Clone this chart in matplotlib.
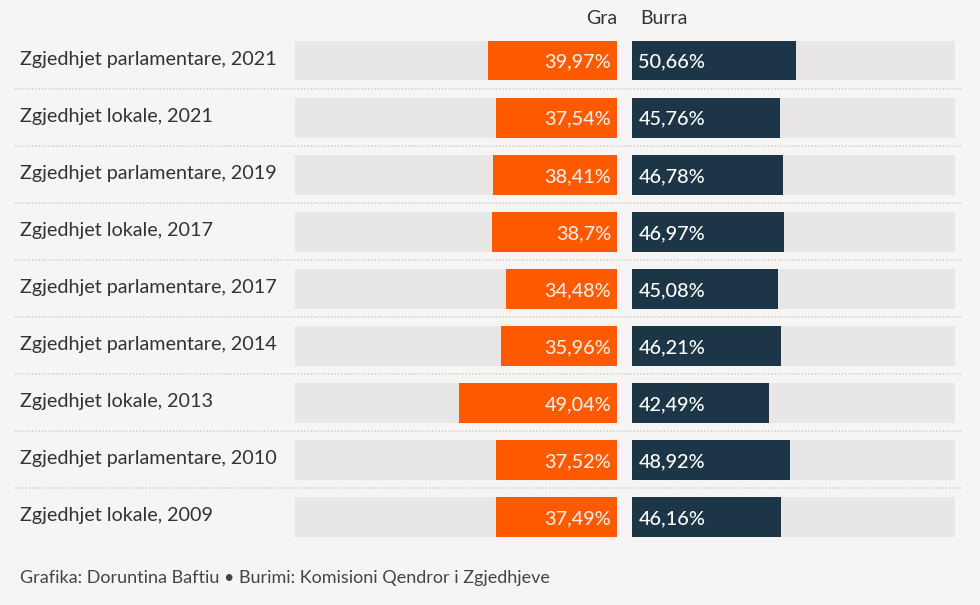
import matplotlib.pyplot as plt

# Data
categories = [
    "Zgjedhjet parlamentare, 2021",
    "Zgjedhjet lokale, 2021",
    "Zgjedhjet parlamentare, 2019",
    "Zgjedhjet lokale, 2017",
    "Zgjedhjet parlamentare, 2017",
    "Zgjedhjet parlamentare, 2014",
    "Zgjedhjet lokale, 2013",
    "Zgjedhjet parlamentare, 2010",
    "Zgjedhjet lokale, 2009",
]
gra = [39.97, 37.54, 38.41, 38.7, 34.48, 35.96, 49.04, 37.52, 37.49]
burra = [50.66, 45.76, 46.78, 46.97, 45.08, 46.21, 42.49, 48.92, 46.16]
series_names = ["Gra", "Burra"]
footer = "Grafika: Doruntina Baftiu \u2022 Burimi: Komisioni Qendror i Zgjedhjeve"

BG = "#f6f5f4"
TRACK = "#e8e7e6"
ORANGE = "#ff5a00"
NAVY = "#1c3647"
TEXT = "#333333"

plt.rcParams['font.family'] = ['Lato', 'DejaVu Sans']

W, H = 980, 605
fig = plt.figure(figsize=(W / 100, H / 100), dpi=100, facecolor=BG)

def fx(px):
    return px / W

def fy(py):
    return 1 - py / H

n = len(categories)
rows = list(range(n))
row_top, row_bot = 32, 545.5
bottom = fy(row_bot)
height = fy(row_top) - bottom

# background axes spanning full width for labels and separators
ax_bg = fig.add_axes([0, bottom, 1, height])
ax_bg.set_xlim(0, W)
ax_bg.set_ylim(n - 0.5, -0.5)
ax_bg.axis('off')
for i in range(n - 1):
    ax_bg.plot([15, 962], [i + 0.5, i + 0.5], color="#cfcfcf", lw=1.1,
               linestyle=(0, (1, 1.2)))
for i, cat in enumerate(categories):
    ax_bg.text(20, i - 0.02, cat, ha='left', va='center', fontsize=14.2,
               color=TEXT)

# left (women) and right (men) panels
ax_l = fig.add_axes([fx(295), bottom, fx(617) - fx(295), height])
ax_r = fig.add_axes([fx(632), bottom, fx(955) - fx(632), height])
bar_h = 0.7
for ax, vals, color in [(ax_l, gra, ORANGE), (ax_r, burra, NAVY)]:
    ax.barh(rows, [100] * n, height=bar_h, color=TRACK)
    ax.barh(rows, vals, height=bar_h, color=color)
    ax.set_ylim(n - 0.5, -0.5)
    ax.set_xlim(0, 100)
    ax.axis('off')
ax_l.invert_xaxis()

def fmt(v):
    return f"{v:g}".replace('.', ',') + "%"

for i, v in enumerate(gra):
    ax_l.text(1.8, i + 0.03, fmt(v), ha='right', va='center', fontsize=14.3,
              fontweight='medium', color="#fde9dc")
for i, v in enumerate(burra):
    ax_r.text(2.0, i + 0.03, fmt(v), ha='left', va='center', fontsize=14.3,
              fontweight='medium', color="white")

# header
fig.text(fx(617), fy(19), series_names[0], ha='right', va='center',
         fontsize=14, color=TEXT)
fig.text(fx(640), fy(19), series_names[1], ha='left', va='center',
         fontsize=14, color=TEXT)

# footer
fig.text(fx(20), fy(578), footer, ha='left', va='center', fontsize=13,
         color="#444444")

fig.savefig("out.png", dpi=100, facecolor=BG)
